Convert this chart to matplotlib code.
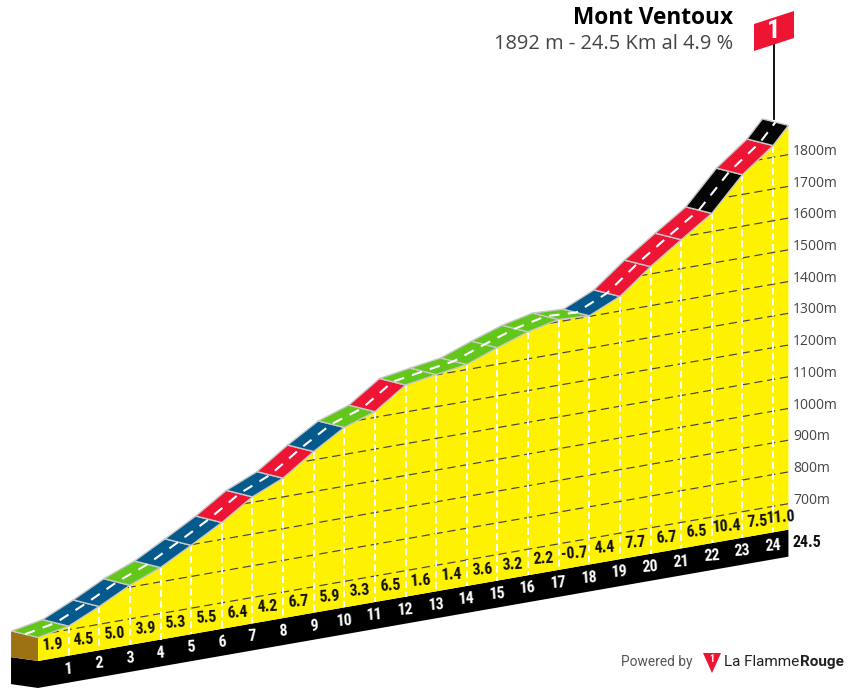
import matplotlib
matplotlib.use('Agg')
import matplotlib.pyplot as plt
import numpy as np
from matplotlib.patches import Polygon
from matplotlib.transforms import Affine2D

# Дистанция (км) и высота (м) в конце каждого отрезка
km = [0, 1, 2, 3, 4, 5, 6, 7, 8, 9, 10, 11, 12, 13, 14, 15, 16, 17, 18, 19, 20, 21, 22, 23, 24, 24.5]
alt = [692, 711, 756, 806, 845, 898, 953, 1017, 1059, 1126, 1185, 1218, 1285, 1301, 1316, 1352,
       1385, 1407, 1402, 1446, 1523, 1591, 1657, 1762, 1837, 1892]
grade = [1.9, 4.5, 5.0, 3.9, 5.3, 5.5, 6.4, 4.2, 6.7, 5.9, 3.3, 6.5, 1.6, 1.4, 3.6, 3.2, 2.2, -0.7,
         4.4, 7.7, 6.7, 6.5, 10.4, 7.5, 11.0]
grid_alt = [700, 800, 900, 1000, 1100, 1200, 1300, 1400, 1500, 1600, 1700, 1800]
km_ticks = list(range(1, 25))

GREEN, BLUE, RED, BLACK = '#62c71a', '#045a8d', '#ed1533', '#050505'
YELLOW = '#fff200'
BASE = 618
NARROW = ['Roboto Condensed', 'DejaVu Sans']


def grade_color(g):
    if g < 4:
        return GREEN
    if g < 6:
        return BLUE
    if g < 9:
        return RED
    return BLACK


fig = plt.figure(figsize=(8.48, 6.95), dpi=100)
ax = fig.add_axes([0, 0, 1, 1])
ax.set_xlim(0, 848)
ax.set_ylim(695, 0)
ax.axis('off')

# косая проекция: (км, м) -> пиксели
prof = Affine2D.from_values(30.63, -5.36, 0, -0.3173, 38, 661 + 0.3173 * BASE) + ax.transData

# основание
ax.add_patch(Polygon([(0, BASE), (24.5, BASE), (24.5, BASE - 85), (0, BASE - 85), (-0.88, BASE - 58), (-0.88, BASE + 27)],
                     closed=True, transform=prof, fc='black', ec='none', zorder=1))
ax.add_patch(Polygon([(0, alt[0]), (0, BASE), (-0.88, BASE + 27), (-0.88, alt[0] + 34)],
                     closed=True, transform=prof, fc='#9c7212', ec='none', zorder=2))

# жёлтый профиль
yellow = Polygon(list(zip(km, alt)) + [(24.5, BASE), (0, BASE)], closed=True, transform=prof,
                 fc=YELLOW, ec='none', zorder=2)
ax.add_patch(yellow)

for a in grid_alt:
    l, = ax.plot([0, 24.5], [a, a], transform=prof, color='#444444', lw=0.85, dashes=(7, 4), zorder=3)
    l.set_clip_path(yellow)
    ax.annotate(f'{a}m', xy=(24.5, a), xycoords=prof, xytext=(3.4, 2.4), textcoords='offset points',
                ha='left', va='center', fontsize=10, family='Open Sans', color='#444444')

for k in km_ticks:
    top = alt[km.index(k)]
    ax.plot([k, k], [top, BASE], transform=prof, color='white', lw=1.4, dashes=(3.6, 2), zorder=4)
    ax.annotate(str(k), xy=(k, BASE), xycoords=prof, xytext=(0, -9.5), textcoords='offset points',
                ha='center', va='center', fontsize=11.5, fontweight='bold', family=NARROW,
                color='white', rotation=4, zorder=6)

# дорога
dk, da = -0.85, 35
for i in range(len(grade)):
    ax.add_patch(Polygon([(km[i], alt[i]), (km[i + 1], alt[i + 1]), (km[i + 1] + dk, alt[i + 1] + da),
                          (km[i] + dk, alt[i] + da)], closed=True, transform=prof,
                         fc=grade_color(grade[i]), ec='#c8c8c8', lw=1.0, zorder=5, joinstyle='round'))
    ax.annotate(f'{grade[i]:.1f}', xy=((km[i] + km[i + 1]) / 2, BASE), xycoords=prof, xytext=(0, 9.8),
                textcoords='offset points', ha='center', va='center', fontsize=11.5, fontweight='bold',
                family=NARROW, color='#111111', rotation=4, zorder=6)

ax.plot(np.array(km) + dk / 2, np.array(alt) + da / 2, transform=prof, color='white', lw=1.5,
        dashes=(5, 4), zorder=6)

ax.annotate('24.5', xy=(24.5, BASE), xycoords=prof, xytext=(3, -9.5), textcoords='offset points',
            ha='left', va='center', fontsize=11.5, fontweight='bold', family=NARROW, color='#111111')

# заголовок
ax.text(733, 18, 'Mont Ventoux', ha='right', va='center', fontsize=16.3, fontweight='bold',
        family='Open Sans', color='black')
ax.text(733, 44, '1892 m - 24.5 Km al 4.9 %', ha='right', va='center', fontsize=14.4,
        family='Open Sans', color='#444444')

# флажок на вершине
ax.plot([773.5, 773.5], [44, 119], color='black', lw=1.3, zorder=4)
ax.add_patch(Polygon([(754, 24), (794, 11), (794, 38), (754, 51)], closed=True, fc=RED, ec='none', zorder=5))
ax.text(774, 31, '1', ha='center', va='center', fontsize=19, fontweight='bold', family=NARROW,
        color='white', zorder=6)

# логотип
ax.text(621, 662, 'Powered by', ha='left', va='center', fontsize=9.9, family='Roboto', color='#555555')
ax.add_patch(Polygon([(703, 653), (721, 653), (712, 673)], closed=True, fc=RED, ec='none'))
ax.text(712, 659.5, '1', ha='center', va='center', fontsize=7, fontweight='bold', family=NARROW, color='white')
ax.text(724, 662, 'La Flamme', ha='left', va='center', fontsize=11, family='Roboto', color='#222222')
ax.text(844, 662, 'Rouge', ha='right', va='center', fontsize=11, fontweight='bold', family='Roboto', color='#222222')

fig.savefig('out.png', dpi=100)
